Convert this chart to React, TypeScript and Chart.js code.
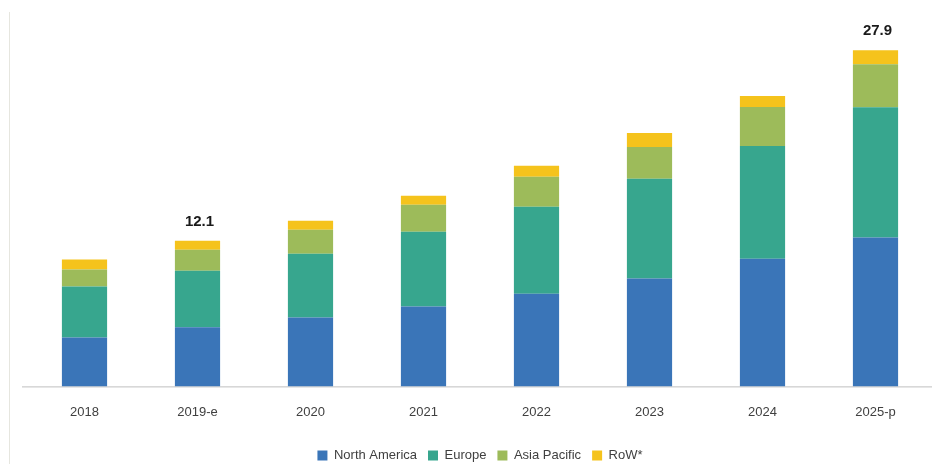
import React, { useEffect, useRef } from "react";
import { Chart, registerables } from "chart.js";

Chart.register(...registerables);

const categories = ["2018", "2019-e", "2020", "2021", "2022", "2023", "2024", "2025-p"];
const northAmerica = [4.06, 4.92, 5.72, 6.63, 7.7, 8.95, 10.6, 12.37];
const europe = [4.23, 4.67, 5.3, 6.21, 7.21, 8.28, 9.36, 10.8];
const asiaPacific = [1.41, 1.75, 1.99, 2.24, 2.49, 2.65, 3.23, 3.57];
const restOfWorld = [0.83, 0.76, 0.75, 0.75, 0.91, 1.16, 0.91, 1.16];
const totalLabels = ["", "12.1", "", "", "", "", "", "27.9"];

const FONT = "'Liberation Sans', Arial, sans-serif";

const totalsPlugin = {
  id: "totals",
  afterDatasetsDraw(chart: any) {
    const ctx = chart.ctx;
    const last = chart.data.datasets.length - 1;
    const meta = chart.getDatasetMeta(last);
    ctx.save();
    ctx.font = `bold 15px ${FONT}`;
    ctx.fillStyle = "#1a1a1a";
    ctx.textAlign = "center";
    ctx.textBaseline = "alphabetic";
    totalLabels.forEach((label, i) => {
      if (!label) return;
      const el = meta.data[i];
      ctx.fillText(label, el.x + 2, el.y - 15);
    });
    ctx.restore();
  },
};

const framePlugin = {
  id: "frame",
  beforeDraw(chart: any) {
    const ctx = chart.ctx;
    const area = chart.chartArea;
    ctx.save();
    ctx.strokeStyle = "#e6e6df";
    ctx.lineWidth = 1;
    ctx.beginPath();
    ctx.moveTo(9.5, 12);
    ctx.lineTo(9.5, chart.height);
    ctx.stroke();
    ctx.strokeStyle = "#bfbfbf";
    ctx.beginPath();
    ctx.moveTo(area.left - 6, area.bottom + 0.5);
    ctx.lineTo(area.right, area.bottom + 0.5);
    ctx.stroke();
    ctx.restore();
  },
};

export default function App() {
  const ref = useRef<HTMLCanvasElement>(null);
  useEffect(() => {
    document.body.style.margin = "0";
    const canvas = ref.current;
    if (!canvas) return;
    const chart = new Chart(canvas, {
      type: "bar",
      data: {
        labels: categories,
        datasets: [
          { label: "North America", data: northAmerica, backgroundColor: "#3a75b8" },
          { label: "Europe", data: europe, backgroundColor: "#37a68e" },
          { label: "Asia Pacific", data: asiaPacific, backgroundColor: "#9dbb5a" },
          { label: "RoW*", data: restOfWorld, backgroundColor: "#f5c31c" },
        ],
      },
      options: {
        responsive: false,
        animation: false,
        layout: { padding: { left: 28, right: 10, top: 25, bottom: -8 } },
        datasets: { bar: { categoryPercentage: 1, barPercentage: 0.4 } },
        scales: {
          x: {
            stacked: true,
            grid: { display: false, drawTicks: false },
            border: { display: false },
            ticks: { color: "#404040", font: { family: FONT, size: 13 }, padding: 18 },
          },
          y: { stacked: true, display: false, min: 0, max: 30 },
        },
        plugins: {
          legend: {
            position: "bottom",
            labels: {
              boxWidth: 10,
              boxHeight: 10,
              padding: 11,
              color: "#404040",
              font: { family: FONT, size: 13 },
            },
          },
          tooltip: { enabled: false },
        },
      },
      plugins: [totalsPlugin, framePlugin],
    });
    return () => chart.destroy();
  }, []);
  return (
    <div style={{ width: 942, height: 464, background: "#ffffff" }}>
      <canvas ref={ref} width={942} height={464} />
    </div>
  );
}
